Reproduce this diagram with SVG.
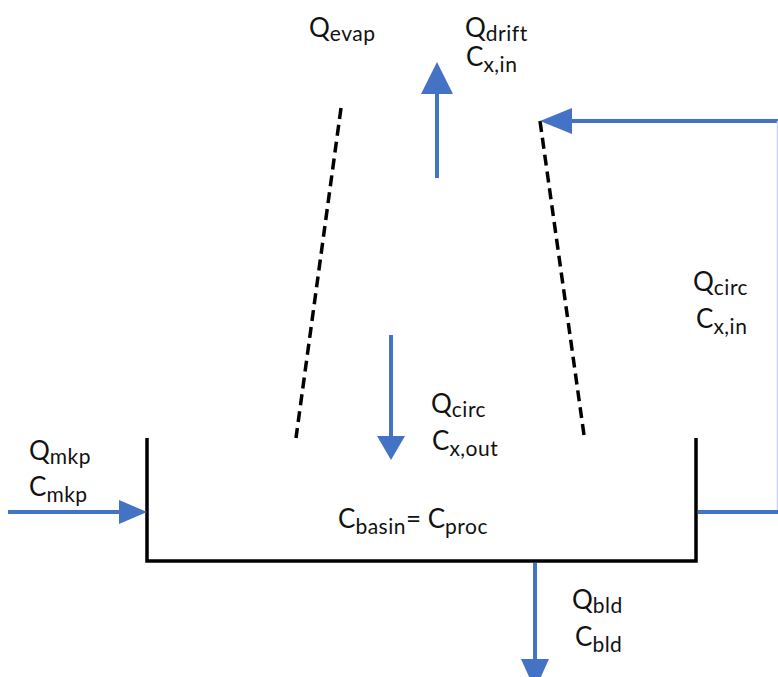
<svg xmlns="http://www.w3.org/2000/svg" width="778" height="677" viewBox="0 0 778 677">
<style>
.t{font-family:Lato,"Open Sans","Liberation Sans",sans-serif;font-size:26px;fill:#111}
.s{font-size:21px;letter-spacing:0.5px}
.blue{stroke:#4472C4;stroke-width:4;fill:none}
.wall{stroke:#000;stroke-width:3.5;fill:none}
.dash{stroke:#000;stroke-width:3.5;stroke-dasharray:11 6;fill:none}
.head{fill:#4472C4}
</style>
<rect width="778" height="677" fill="#fff"/>
<g id="basin">
<polyline class="wall" points="147,438 147,561 696,561 696,438"/>
</g>
<g id="tower">
<line class="dash" x1="341" y1="108" x2="296" y2="438"/>
<line class="dash" x1="540" y1="121" x2="584" y2="435"/>
</g>
<g id="connectors">
<line class="blue" x1="437" y1="178" x2="437" y2="92"/>
<polygon class="head" points="437,62 421,94 453,94"/>
<line class="blue" x1="778" y1="121" x2="570" y2="121"/>
<polygon class="head" points="540,121 572,108 572,134"/>
<line x1="777.5" y1="121" x2="777.5" y2="512" stroke="#C5D3EE" stroke-width="1.5"/>
<line class="blue" x1="698" y1="512" x2="778" y2="512"/>
<line class="blue" x1="391" y1="335" x2="391" y2="440"/>
<polygon class="head" points="391,460 377,436 405,436"/>
<line class="blue" x1="8" y1="512" x2="122" y2="512"/>
<polygon class="head" points="147,512 119,500 119,524"/>
<line class="blue" x1="535" y1="563" x2="535" y2="662"/>
<polygon class="head" points="535,690 521,659 549,659"/>
</g>
<g id="labels">
<text class="t" x="309" y="37">Q<tspan class="s" dy="4">evap</tspan></text>
<text class="t" x="465" y="37">Q<tspan class="s" dy="4">drift</tspan></text>
<text class="t" x="466" y="66">C<tspan class="s" dy="6">x,in</tspan></text>
<text class="t" x="693" y="291">Q<tspan class="s" dy="4">circ</tspan></text>
<text class="t" x="696" y="328">C<tspan class="s" dy="6">x,in</tspan></text>
<text class="t" x="431" y="413">Q<tspan class="s" dy="4">circ</tspan></text>
<text class="t" x="432" y="450">C<tspan class="s" dy="6">x,out</tspan></text>
<text class="t" x="29" y="460">Q<tspan class="s" dy="4">mkp</tspan></text>
<text class="t" x="29" y="496">C<tspan class="s" dy="6">mkp</tspan></text>
<text class="t" x="338" y="528">C<tspan class="s" dy="6">basin</tspan><tspan dy="-6">= C</tspan><tspan class="s" dy="6">proc</tspan></text>
<text class="t" x="572" y="609">Q<tspan class="s" dy="4">bld</tspan></text>
<text class="t" x="575" y="646">C<tspan class="s" dy="6">bld</tspan></text>
</g>
</svg>
